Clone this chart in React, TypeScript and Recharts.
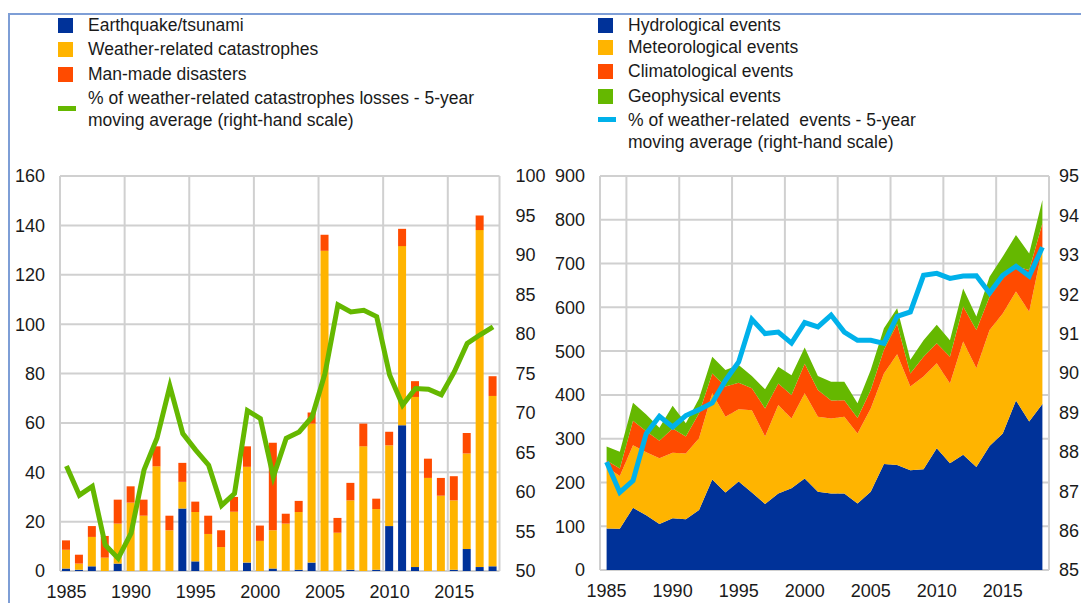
import React from 'react'
import {
  ComposedChart, Bar, Line, Area, XAxis, YAxis, CartesianGrid,
} from 'recharts'

const years = [
  1985, 1986, 1987, 1988, 1989, 1990, 1991, 1992, 1993, 1994,
  1995, 1996, 1997, 1998, 1999, 2000, 2001, 2002, 2003, 2004,
  2005, 2006, 2007, 2008, 2009, 2010, 2011, 2012, 2013, 2014,
  2015, 2016, 2017, 2018,
]
const yearTicks = [1985, 1990, 1995, 2000, 2005, 2010, 2015]

// left panel: insured losses (bars) and weather share (line, rhs)
const earthquake = [1, 0.5, 1.9, 0, 3, 0, 0, 0, 0, 25.3, 3.9, 0, 0, 0, 3.4, 0, 1, 0, 0.5, 3.4, 0, 0, 0.5, 0, 0.5, 18.2, 59, 1.6, 0, 0, 0.5, 8.9, 1.6, 1.9]
const weatherCat = [7.6, 2.5, 11.9, 5.4, 16.2, 27.7, 22.4, 42.4, 16.5, 10.8, 20, 15, 9.7, 24, 38.8, 12.2, 15.5, 19.2, 23.4, 56.3, 129.7, 15.5, 28.1, 50.5, 24.6, 32.7, 72.6, 68.9, 37.7, 30.5, 28.1, 38.7, 136.5, 69]
const manMade = [3.8, 3.6, 4.4, 8.8, 9.7, 6.6, 6.5, 8.1, 5.9, 7.7, 4.2, 7.4, 6.8, 6, 8.3, 6.2, 35.4, 4, 4.5, 4.5, 6.5, 6, 7.1, 9.2, 4.2, 5.5, 7, 6.4, 7.8, 7.2, 9.8, 8.3, 5.9, 8]
const weatherLossShare = [63.3, 59.6, 60.7, 53.3, 51.6, 54.8, 62.8, 66.8, 73.4, 67.4, 65.3, 63.4, 58.3, 59.8, 70.3, 69.3, 61.9, 66.8, 67.6, 69.5, 75.0, 83.7, 82.8, 83.0, 82.2, 74.8, 71.0, 73.1, 73.0, 72.3, 75.2, 78.8, 79.9, 80.9]
const leftTicks = [0, 20, 40, 60, 80, 100, 120, 140, 160]
const leftRhsTicks = [50, 55, 60, 65, 70, 75, 80, 85, 90, 95, 100]

// right panel: number of events (stacked areas) and weather share (line, rhs)
const hydrological = [95, 94, 142, 125, 105, 118, 116, 137, 207, 177, 202, 177, 151, 175, 187, 209, 179, 175, 175, 152, 179, 242, 240, 228, 230, 278, 244, 263, 235, 283, 312, 387, 339, 379]
const meteorological = [140, 121, 143, 144, 150, 150, 150, 164, 197, 173, 165, 188, 154, 202, 159, 195, 171, 171, 175, 160, 190, 207, 253, 191, 212, 194, 182, 259, 226, 265, 274, 249, 251, 356]
const climatological = [15, 17, 56, 48, 40, 55, 39, 57, 45, 69, 61, 50, 64, 49, 54, 67, 61, 41, 38, 35, 42, 54, 69, 30, 45, 46, 61, 80, 87, 76, 80, 57, 95, 57]
const geophysical = [32, 38, 41, 38, 30, 52, 30, 34, 38, 38, 40, 28, 44, 38, 45, 37, 32, 43, 42, 34, 46, 49, 36, 31, 38, 42, 38, 41, 31, 46, 50, 72, 38, 53]
const weatherEventShare = [87.74, 86.97, 87.27, 88.46, 88.9, 88.63, 88.92, 89.07, 89.24, 89.81, 90.28, 91.36, 91.0, 91.04, 90.76, 91.28, 91.17, 91.47, 91.04, 90.83, 90.83, 90.75, 91.44, 91.55, 92.48, 92.53, 92.4, 92.46, 92.47, 92.03, 92.48, 92.71, 92.46, 93.19]
const rightTicks = [0, 100, 200, 300, 400, 500, 600, 700, 800, 900]
const rightRhsTicks = [85, 86, 87, 88, 89, 90, 91, 92, 93, 94, 95]

const BLUE = '#003299'
const YELLOW = '#FFB400'
const RED = '#FF4B00'
const GREEN = '#65B800'
const CYAN = '#00B1EA'
const GRID = '#D0D0D0'
const FONT = '"Liberation Sans", Arial, sans-serif'

const lossData = years.map((year, i) => ({
  year,
  eq: earthquake[i],
  weather: weatherCat[i],
  man: manMade[i],
  share: weatherLossShare[i],
}))

const eventData = years.map((year, i) => ({
  year,
  hydro: hydrological[i],
  meteo: meteorological[i],
  clim: climatological[i],
  geo: geophysical[i],
  share: weatherEventShare[i],
}))

// grid lines sit on the year boundaries, not on the year centres
const boundaries = [...years.map(y => y - 0.5), 2018.5]
const leftGridX = boundaries.filter((_, i) => i % 5 === 0 || i === boundaries.length - 1)

const tick = { fontSize: 18, fill: '#1a1a1a', fontFamily: FONT }

type Item = { label: string[]; color: string; line?: boolean; markY?: number }

function LegendBlock({ items, x, textX, rows }: { items: Item[]; x: number; textX: number; rows: number[] }) {
  return (
    <>
      {items.map((it, i) => (
        <div key={i}>
          <div style={{
            position: 'absolute', left: x, top: it.line ? rows[i] + (it.markY ?? 0) - 2 : rows[i] - 7,
            width: it.line ? 18 : 15, height: it.line ? 5 : 15, background: it.color,
          }} />
          <div style={{
            position: 'absolute', left: textX, top: rows[i] - 11,
            fontSize: 17.5, lineHeight: '22px', fontFamily: FONT, color: '#1a1a1a', whiteSpace: 'pre',
          }}>
            {it.label.map((l, j) => <div key={j}>{l}</div>)}
          </div>
        </div>
      ))}
    </>
  )
}

export default function App() {
  return (
    <div style={{ position: 'fixed', left: 0, top: 0, width: 1081, height: 603, background: '#fff', overflow: 'hidden' }}>
      <div style={{ position: 'absolute', left: 8, top: 13, width: 1100, height: 700, borderLeft: '2px solid #7E9ED6', borderTop: '2px solid #7E9ED6' }} />

      <LegendBlock
        x={58} textX={88} rows={[25, 49, 74, 98]}
        items={[
          { label: ['Earthquake/tsunami'], color: BLUE },
          { label: ['Weather-related catastrophes'], color: YELLOW },
          { label: ['Man-made disasters'], color: RED },
          { label: ['% of weather-related catastrophes losses - 5-year', 'moving average (right-hand scale)'], color: GREEN, line: true, markY: 10 },
        ]}
      />
      <LegendBlock
        x={598} textX={628} rows={[25, 47, 71, 96, 120]}
        items={[
          { label: ['Hydrological events'], color: BLUE },
          { label: ['Meteorological events'], color: YELLOW },
          { label: ['Climatological events'], color: RED },
          { label: ['Geophysical events'], color: GREEN },
          { label: ['% of weather-related  events - 5-year', 'moving average (right-hand scale)'], color: CYAN, line: true, markY: -1 },
        ]}
      />

      <div style={{ position: 'absolute', left: 0, top: 150 }}>
        <ComposedChart width={560} height={453} data={lossData} margin={{ top: 26, right: 0, bottom: 0, left: 0 }} barCategoryGap={0}>
          <CartesianGrid xAxisId="grid" stroke={GRID} strokeWidth={2} />
          <XAxis dataKey="year" type="category" ticks={yearTicks} interval={0} tick={tick}
            axisLine={false} tickLine={false} tickSize={0} tickMargin={14} height={32} />
          <XAxis xAxisId="grid" dataKey="year" type="number" domain={[1984.5, 2018.5]} ticks={leftGridX} hide allowDataOverflow />
          <YAxis domain={[0, 160]} ticks={leftTicks} tick={tick} axisLine={false} tickLine={false} tickSize={0} tickMargin={15} width={60} />
          <YAxis yAxisId="rhs" orientation="right" domain={[50, 100]} ticks={leftRhsTicks} tick={{ ...tick, textAnchor: 'start' }}
            axisLine={false} tickLine={false} tickSize={0} tickMargin={16} width={60.5} />
          <Bar dataKey="eq" stackId="a" fill={BLUE} barSize={8} isAnimationActive={false} />
          <Bar dataKey="weather" stackId="a" fill={YELLOW} barSize={8} isAnimationActive={false} />
          <Bar dataKey="man" stackId="a" fill={RED} barSize={8} isAnimationActive={false} />
          <Line yAxisId="rhs" dataKey="share" stroke={GREEN} strokeWidth={5} dot={false} type="linear" isAnimationActive={false} />
        </ComposedChart>
      </div>

      <div style={{ position: 'absolute', left: 540, top: 150 }}>
        <ComposedChart width={541} height={453} data={eventData} margin={{ top: 26, right: 0, bottom: 0, left: 0 }}>
          <CartesianGrid xAxisId="grid" stroke={GRID} strokeWidth={2} />
          <XAxis dataKey="year" type="number" domain={[1984.5, 2018.5]} ticks={yearTicks} interval={0} tick={tick}
            axisLine={false} tickLine={false} tickSize={0} tickMargin={14} height={33} allowDataOverflow />
          <XAxis xAxisId="grid" dataKey="year" type="number" domain={[1984.5, 2018.5]} ticks={boundaries} hide allowDataOverflow />
          <YAxis domain={[0, 900]} ticks={rightTicks} tick={tick} axisLine={false} tickLine={false} tickSize={0} tickMargin={15} width={60} />
          <YAxis yAxisId="rhs" orientation="right" domain={[85, 95]} ticks={rightRhsTicks} tick={{ ...tick, textAnchor: 'start' }}
            axisLine={false} tickLine={false} tickSize={0} tickMargin={10} width={32} />
          <Area dataKey="hydro" stackId="e" type="linear" fill={BLUE} fillOpacity={1} stroke="none" isAnimationActive={false} />
          <Area dataKey="meteo" stackId="e" type="linear" fill={YELLOW} fillOpacity={1} stroke="none" isAnimationActive={false} />
          <Area dataKey="clim" stackId="e" type="linear" fill={RED} fillOpacity={1} stroke="none" isAnimationActive={false} />
          <Area dataKey="geo" stackId="e" type="linear" fill={GREEN} fillOpacity={1} stroke="none" isAnimationActive={false} />
          <Line yAxisId="rhs" dataKey="share" stroke={CYAN} strokeWidth={5} dot={false} type="linear" isAnimationActive={false} />
        </ComposedChart>
      </div>
    </div>
  )
}
